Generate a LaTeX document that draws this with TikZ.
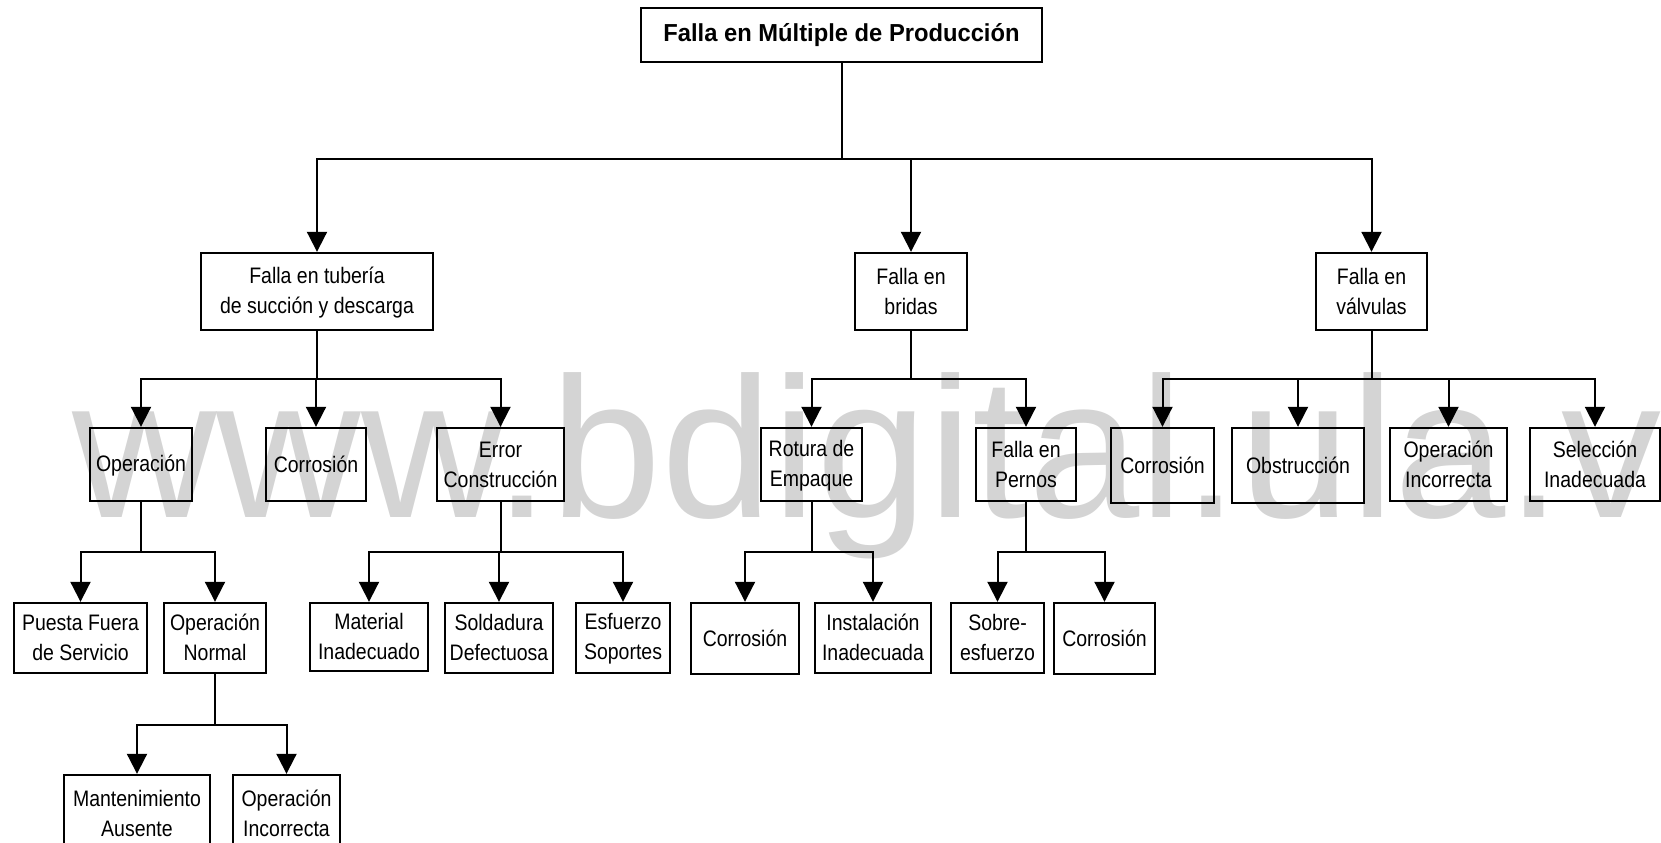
\documentclass[tikz,border=0pt]{standalone}
\usepackage{fontspec}
\setmainfont{Liberation Sans}[FakeStretch=0.87]
\newfontfamily\headfont{Liberation Sans}[FakeStretch=0.965]
\newfontfamily\markfont{Liberation Sans}
\usetikzlibrary{arrows.meta}
% fixed strut so one- and two-line labels sit the same way in their boxes
\newcommand\Lstrut{\rule[-1.5pt]{0pt}{10.5pt}}

\tikzset{
  box/.style={draw, line width=1.2pt, inner sep=0pt, align=center,
    font=\fontsize{11.2}{15}\selectfont},
  sz/.style 2 args={minimum width=#1*0.5pt, minimum height=#2*0.5pt},
  link/.style={line width=1pt},
  arr/.style={link, -{Triangle[length=10pt,width=10pt]}},
}

\begin{document}
\begin{tikzpicture}[x=0.5pt,y=-0.5pt]
\useasboundingbox (0,0) rectangle (1661,842);
\clip (0,0) rectangle (1661,842);

% watermark
\node[font=\markfont\fontsize{100}{100}\selectfont, text=black!17,
      anchor=base west, inner sep=0pt] (wm) at (72,517) {www.bdigital.ula.ve};

% bus levels
\coordinate (y1) at (0,159);
\coordinate (y2) at (0,379);
\coordinate (y3) at (0,552);
\coordinate (y4) at (0,725);

% root
\node[box, sz={401}{54}, font=\headfont\bfseries\fontsize{12.3}{15}\selectfont]
  (top) at (841.5,35) {\Lstrut Falla en Múltiple de Producción};

% level 1
\node[box, sz={232}{77}] (tub) at (317,291.5) {\Lstrut Falla en tubería\\\Lstrut de succión y descarga};
\node[box, sz={112}{77}] (bri) at (911,291.5) {\Lstrut Falla en\\\Lstrut bridas};
\node[box, sz={111}{77}] (val) at (1371.5,291.5) {\Lstrut Falla en\\\Lstrut válvulas};

% level 2
\node[box, sz={102}{73}] (ope) at (141,464.5) {\Lstrut Operación};
\node[box, sz={100}{73}] (cor1) at (316,464.5) {\Lstrut Corrosión};
\node[box, sz={127}{73}] (err) at (500.5,464.5) {\Lstrut Error\\\Lstrut Construcción};
\node[box, sz={101}{73}] (rot) at (811.5,464.5) {\Lstrut Rotura de\\\Lstrut Empaque};
\node[box, sz={100}{73}] (per) at (1026,464.5) {\Lstrut Falla en\\\Lstrut Pernos};
\node[box, sz={103}{75}] (cor2) at (1162.5,465.5) {\Lstrut Corrosión};
\node[box, sz={132}{75}] (obs) at (1298,465.5) {\Lstrut Obstrucción};
\node[box, sz={117}{73}] (opi) at (1448.5,464.5) {\Lstrut Operación\\\Lstrut Incorrecta};
\node[box, sz={130}{73}] (sel) at (1595,464.5) {\Lstrut Selección\\\Lstrut Inadecuada};

% level 3
\node[box, sz={133}{70}] (pue) at (80.5,638) {\Lstrut Puesta Fuera\\\Lstrut de Servicio};
\node[box, sz={102}{70}] (opn) at (215,638) {\Lstrut Operación\\\Lstrut Normal};
\node[box, sz={118}{68}] (mat) at (369,637) {\Lstrut Material\\\Lstrut Inadecuado};
\node[box, sz={108}{70}] (sol) at (499,638) {\Lstrut Soldadura\\\Lstrut Defectuosa};
\node[box, sz={94}{70}] (esf) at (623,638) {\Lstrut Esfuerzo\\\Lstrut Soportes};
\node[box, sz={108}{71}] (cor3) at (745,638.5) {\Lstrut Corrosión};
\node[box, sz={116}{70}] (ins) at (873,638) {\Lstrut Instalación\\\Lstrut Inadecuada};
\node[box, sz={93}{70}] (sob) at (997.5,638) {\Lstrut Sobre-\\\Lstrut esfuerzo};
\node[box, sz={101}{71}] (cor4) at (1104.5,638.5) {\Lstrut Corrosión};

% level 4
\node[box, sz={146}{77}] (man) at (137,813.5) {\Lstrut Mantenimiento\\\Lstrut Ausente};
\node[box, sz={107}{77}] (opc) at (286.5,813.5) {\Lstrut Operación\\\Lstrut Incorrecta};

% connectors
\foreach \c in {tub,bri,val}
  \draw[arr] (top.south) -- (top.south |- y1) -| (\c.north);
\foreach \c in {ope,cor1,err}
  \draw[arr] (tub.south) -- (tub.south |- y2) -| (\c.north);
\foreach \c in {rot,per}
  \draw[arr] (bri.south) -- (bri.south |- y2) -| (\c.north);
\foreach \c in {cor2,obs,opi,sel}
  \draw[arr] (val.south) -- (val.south |- y2) -| (\c.north);
\foreach \c in {pue,opn}
  \draw[arr] (ope.south) -- (ope.south |- y3) -| (\c.north);
\foreach \c in {mat,sol,esf}
  \draw[arr] (err.south) -- (err.south |- y3) -| (\c.north);
\foreach \c in {cor3,ins}
  \draw[arr] (rot.south) -- (rot.south |- y3) -| (\c.north);
\foreach \c in {sob,cor4}
  \draw[arr] (per.south) -- (per.south |- y3) -| (\c.north);
\foreach \c in {man,opc}
  \draw[arr] (opn.south) -- (opn.south |- y4) -| (\c.north);
\end{tikzpicture}
\end{document}
